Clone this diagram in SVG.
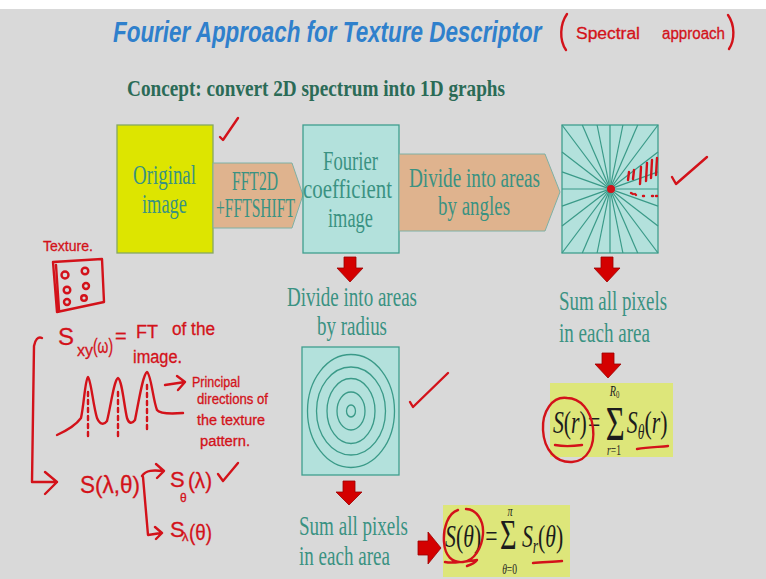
<svg xmlns="http://www.w3.org/2000/svg" width="766" height="579" viewBox="0 0 766 579">
<defs>
<style>
.bg{fill:#d9d9d9}
.teal{font-family:"Liberation Serif",serif;fill:#3a9282;font-size:27px}
.hand{font-family:"Liberation Sans",sans-serif;fill:#d3121a;stroke:#d3121a;stroke-width:0.3}
.ink{fill:none;stroke:#d3121a;stroke-width:2.4;stroke-linecap:round;stroke-linejoin:round}
.math{font-family:"Liberation Serif",serif;fill:#1c1c1c}
.it{font-style:italic}
.cyan{fill:#b3e1dc;stroke:#3f9e8e;stroke-width:1.3}
.tan{fill:#dfb38e;stroke:#7fb0a4;stroke-width:1}
.ray{stroke:#3a9a88;stroke-width:1.2}
.ring{fill:none;stroke:#3a9a88;stroke-width:1.3}
.redarrow{fill:#d40000;stroke:#9a0000;stroke-width:0.8}
.formula{fill:#dde67a}
</style>
</defs>
<rect x="0" y="0" width="766" height="579" class="bg"/>
<rect x="0" y="0" width="766" height="9" fill="#ffffff"/>

<g id="title" transform="translate(113,42) scale(0.748,1)">
<text x="0" y="0" font-family="Liberation Sans,sans-serif" font-weight="bold" font-style="italic" font-size="30" fill="#2f80cc">Fourier Approach for Texture Descriptor</text>
</g>
<g id="concept">
<text x="127" y="96" font-family="Liberation Serif,serif" font-weight="bold" font-size="23" fill="#2b6b57" textLength="378" lengthAdjust="spacingAndGlyphs">Concept: convert 2D spectrum into 1D graphs</text>
</g>

<g id="original-image">
<rect x="117" y="125" width="96" height="128" fill="#dde500" stroke="#86a862" stroke-width="1.3"/>
<text class="teal" x="133" y="184" textLength="63" lengthAdjust="spacingAndGlyphs">Original</text>
<text class="teal" x="142" y="213" textLength="45" lengthAdjust="spacingAndGlyphs">image</text>
</g>

<g id="fft-arrow">
<path class="tan" d="M213,163 L292,163 L303,195 L292,228 L213,228 Z"/>
<text class="teal" x="232" y="190" font-size="20" textLength="46" lengthAdjust="spacingAndGlyphs">FFT2D</text>
<text class="teal" x="216" y="217" font-size="20" textLength="79" lengthAdjust="spacingAndGlyphs">+FFTSHIFT</text>
</g>

<g id="fourier-image">
<rect class="cyan" x="303" y="125" width="96" height="128"/>
<text class="teal" x="323" y="170" textLength="55" lengthAdjust="spacingAndGlyphs">Fourier</text>
<text class="teal" x="303" y="198" textLength="89" lengthAdjust="spacingAndGlyphs">coefficient</text>
<text class="teal" x="328" y="227" textLength="45" lengthAdjust="spacingAndGlyphs">image</text>
</g>

<g id="angles-arrow">
<path class="tan" d="M399,154 L545,154 L560,192 L545,231 L399,231 Z"/>
<text class="teal" x="409" y="187" textLength="131" lengthAdjust="spacingAndGlyphs">Divide into areas</text>
<text class="teal" x="438" y="215" textLength="72" lengthAdjust="spacingAndGlyphs">by angles</text>
</g>

<g id="angles-image">
<rect class="cyan" x="562" y="125" width="96" height="128"/>
<g class="ray">
<line x1="562" y1="189" x2="658" y2="189"/>
<line x1="562" y1="171.9" x2="658" y2="206.1"/>
<line x1="562" y1="152" x2="658" y2="226"/>
<line x1="562" y1="125" x2="658" y2="253"/>
<line x1="582.3" y1="125" x2="637.7" y2="253"/>
<line x1="597.1" y1="125" x2="622.9" y2="253"/>
<line x1="610" y1="125" x2="610" y2="253"/>
<line x1="622.9" y1="125" x2="597.1" y2="253"/>
<line x1="637.7" y1="125" x2="582.3" y2="253"/>
<line x1="658" y1="125" x2="562" y2="253"/>
<line x1="658" y1="152" x2="562" y2="226"/>
<line x1="658" y1="171.9" x2="562" y2="206.1"/>
</g>
<circle cx="611" cy="189" r="4" fill="#d3121a"/>
</g>

<g id="radius-label">
<text class="teal" x="287" y="306" font-size="26" textLength="130" lengthAdjust="spacingAndGlyphs">Divide into areas</text>
<text class="teal" x="317" y="335" font-size="26" textLength="70" lengthAdjust="spacingAndGlyphs">by radius</text>
</g>

<g id="radius-image">
<rect class="cyan" x="302" y="347" width="97" height="128"/>
<ellipse class="ring" cx="351" cy="411" rx="43.5" ry="56.5"/>
<ellipse class="ring" cx="351" cy="411" rx="34.5" ry="44"/>
<ellipse class="ring" cx="351" cy="411" rx="24" ry="32.5"/>
<ellipse class="ring" cx="351" cy="411" rx="14" ry="19"/>
<ellipse class="ring" cx="351" cy="411" rx="4.5" ry="6"/>
</g>

<g id="sum-radius-label">
<text class="teal" x="299" y="535" font-size="26" textLength="109" lengthAdjust="spacingAndGlyphs">Sum all pixels</text>
<text class="teal" x="299" y="565" font-size="26" textLength="91" lengthAdjust="spacingAndGlyphs">in each area</text>
</g>

<g id="sum-angle-label">
<text class="teal" x="559" y="310" font-size="26" textLength="108" lengthAdjust="spacingAndGlyphs">Sum all pixels</text>
<text class="teal" x="559" y="342" font-size="26" textLength="91" lengthAdjust="spacingAndGlyphs">in each area</text>
</g>

<g id="formula-r">
<rect class="formula" x="550" y="383" width="123" height="74"/>
<g transform="translate(550,0) scale(0.68,1)" class="math">
<text x="4.4" y="433" font-size="32"><tspan class="it">S</tspan>(<tspan class="it">r</tspan>)</text>
<text x="56" y="433" font-size="32">=</text>
<text x="82" y="440" font-size="48">Σ</text>
<text x="88" y="396" font-size="15" class="it">R<tspan font-size="10" dy="2" font-style="normal">0</tspan></text>
<text x="84" y="455" font-size="14"><tspan class="it">r</tspan>=1</text>
<text x="113" y="433" font-size="32"><tspan class="it">S</tspan><tspan class="it" font-size="20" dy="6">θ</tspan><tspan dy="-6">(</tspan><tspan class="it">r</tspan>)</text>
</g>
</g>

<g id="formula-theta">
<rect class="formula" x="443" y="505" width="127" height="72"/>
<g transform="translate(443,0) scale(0.68,1)" class="math">
<text x="3" y="547" font-size="32"><tspan class="it">S</tspan>(<tspan class="it">θ</tspan>)</text>
<text x="62" y="547" font-size="32">=</text>
<text x="84" y="549" font-size="42">Σ</text>
<text x="95" y="516" font-size="15" class="it">π</text>
<text x="87" y="574" font-size="14"><tspan class="it">θ</tspan>=0</text>
<text x="116" y="547" font-size="32"><tspan class="it">S</tspan><tspan class="it" font-size="20" dy="6">r</tspan><tspan dy="-6">(</tspan><tspan class="it">θ</tspan>)</text>
</g>
</g>

<g id="connectors">
<path class="redarrow" d="M344,257 L356,257 L356,268 L363,268 L350,282 L337,268 L344,268 Z"/>
<path class="redarrow" d="M601,257 L613,257 L613,268 L620,268 L607,282 L594,268 L601,268 Z"/>
<path class="redarrow" d="M602,353 L614,353 L614,364 L621,364 L608,378 L595,364 L602,364 Z"/>
<path class="redarrow" d="M343,481 L355,481 L355,492 L362,492 L349,505 L336,492 L343,492 Z"/>
<path class="redarrow" d="M418,541 L428,541 L428,532 L441,548 L428,564 L428,555 L418,555 Z"/>
</g>

<g id="annotations">
<path class="ink" d="M567,14 C560,24 559,40 566,50"/>
<text class="hand" x="576" y="39" font-size="16" textLength="64" lengthAdjust="spacingAndGlyphs">Spectral</text>
<text class="hand" x="662" y="39" font-size="16" textLength="63" lengthAdjust="spacingAndGlyphs">approach</text>
<path class="ink" d="M728,15 C735,25 735,40 729,49"/>

<path class="ink" d="M220,137 L223,140 L238,118"/>
<path class="ink" d="M672,177 L676,184 L707,157"/>
<path class="ink" d="M410,402 L413,407 L448,373"/>
<path class="ink" d="M629,172 L628,180 M634,170 L633,179 M641,167 L640,184 M647,163 L646,181 M652,160 L651,178 M657,158 L656,175" stroke-width="2"/>
<path class="ink" d="M631,193 L633,194 M635,194 L636,195 M643,196 L644,196 M652,196 L653,196 M656,196 L657,196" stroke-width="2.4"/>

<path class="ink" d="M567,398 C552,396 542,412 543,430 C544,450 556,463 572,462 C588,461 595,445 593,428 C591,410 580,398 567,398 M555,445 C565,447 575,446 582,445"/>
<path class="ink" d="M637,449 C648,447 659,447 668,446"/>
<path class="ink" d="M458,510 C448,513 443,528 444,542 C445,556 452,563 463,562 C474,561 482,548 483,534 C484,520 476,509 466,509 M445,562 C455,564 467,561 477,560 C475,563 470,565 467,566"/>
<path class="ink" d="M533,563 C542,562 552,562 562,561"/>

<text class="hand" x="43" y="251" font-size="15" textLength="50" lengthAdjust="spacingAndGlyphs">Texture.</text>
<path class="ink" d="M53,262 L102,259 L104,302 L57,312 Z M56,265 L59,310"/>
<g class="ink" stroke-width="2">
<circle cx="65" cy="275" r="3.5"/><circle cx="85" cy="271" r="3.3"/>
<circle cx="67" cy="290" r="3.3"/><circle cx="86" cy="286" r="3"/>
<circle cx="67" cy="302" r="3"/><circle cx="84" cy="298" r="2.8"/>
</g>

<text class="hand" x="58" y="345" font-size="24">S</text>
<text class="hand" x="77" y="356" font-size="16">xy</text>
<text class="hand" x="93" y="353" font-size="20" textLength="20" lengthAdjust="spacingAndGlyphs">(ω)</text>
<text class="hand" x="115" y="343" font-size="20">=</text>
<text class="hand" x="136" y="338" font-size="18" textLength="22" lengthAdjust="spacingAndGlyphs">FT</text>
<text class="hand" x="172" y="335" font-size="18" textLength="43" lengthAdjust="spacingAndGlyphs">of the</text>
<text class="hand" x="133" y="363" font-size="18" textLength="49" lengthAdjust="spacingAndGlyphs">image.</text>

<path class="ink" d="M42,338 C38,336 35,340 34,346 L32,482 L57,482 M45,472 L57,482 L45,494"/>
<path class="ink" d="M57,435 C68,430 76,425 81,418 C84,405 85,380 88,377 C91,380 93,405 97,418 C100,425 104,425 107,421 C111,405 114,380 118,378 C122,380 124,405 127,418 C129,424 132,424 135,420 C139,400 143,374 147,372 C151,374 153,400 157,410 C160,414 170,414 183,413"/>
<path class="ink" d="M88,392 L88,438 M118,392 L118,440 M147,385 L147,430" stroke-width="1.6" stroke-dasharray="4 4"/>

<path class="ink" d="M165,385 L185,382 M177,376 L185,382 L178,390"/>
<text class="hand" x="192" y="387" font-size="14" textLength="48" lengthAdjust="spacingAndGlyphs">Principal</text>
<text class="hand" x="197" y="404" font-size="14" textLength="71" lengthAdjust="spacingAndGlyphs">directions of</text>
<text class="hand" x="197" y="425" font-size="14" textLength="68" lengthAdjust="spacingAndGlyphs">the texture</text>
<text class="hand" x="200" y="446" font-size="14" textLength="50" lengthAdjust="spacingAndGlyphs">pattern.</text>

<text class="hand" x="80" y="493" font-size="24" textLength="60" lengthAdjust="spacingAndGlyphs">S(λ,θ)</text>
<path class="ink" d="M142,476 C146,470 153,470 163,471 M156,464 L164,471 L157,478"/>
<path class="ink" d="M143,477 L148,535 L161,533 M155,527 L162,533 L156,539"/>
<text class="hand" x="170" y="487" font-size="22">S</text>
<text class="hand" x="180" y="502" font-size="12">θ</text>
<text class="hand" x="188" y="488" font-size="22" textLength="24" lengthAdjust="spacingAndGlyphs">(λ)</text>
<path class="ink" d="M218,474 L223,481 L238,463"/>
<text class="hand" x="170" y="537" font-size="22">S</text>
<text class="hand" x="182" y="541" font-size="13">λ</text>
<text class="hand" x="189" y="540" font-size="22" textLength="23" lengthAdjust="spacingAndGlyphs">(θ)</text>
</g>
</svg>
